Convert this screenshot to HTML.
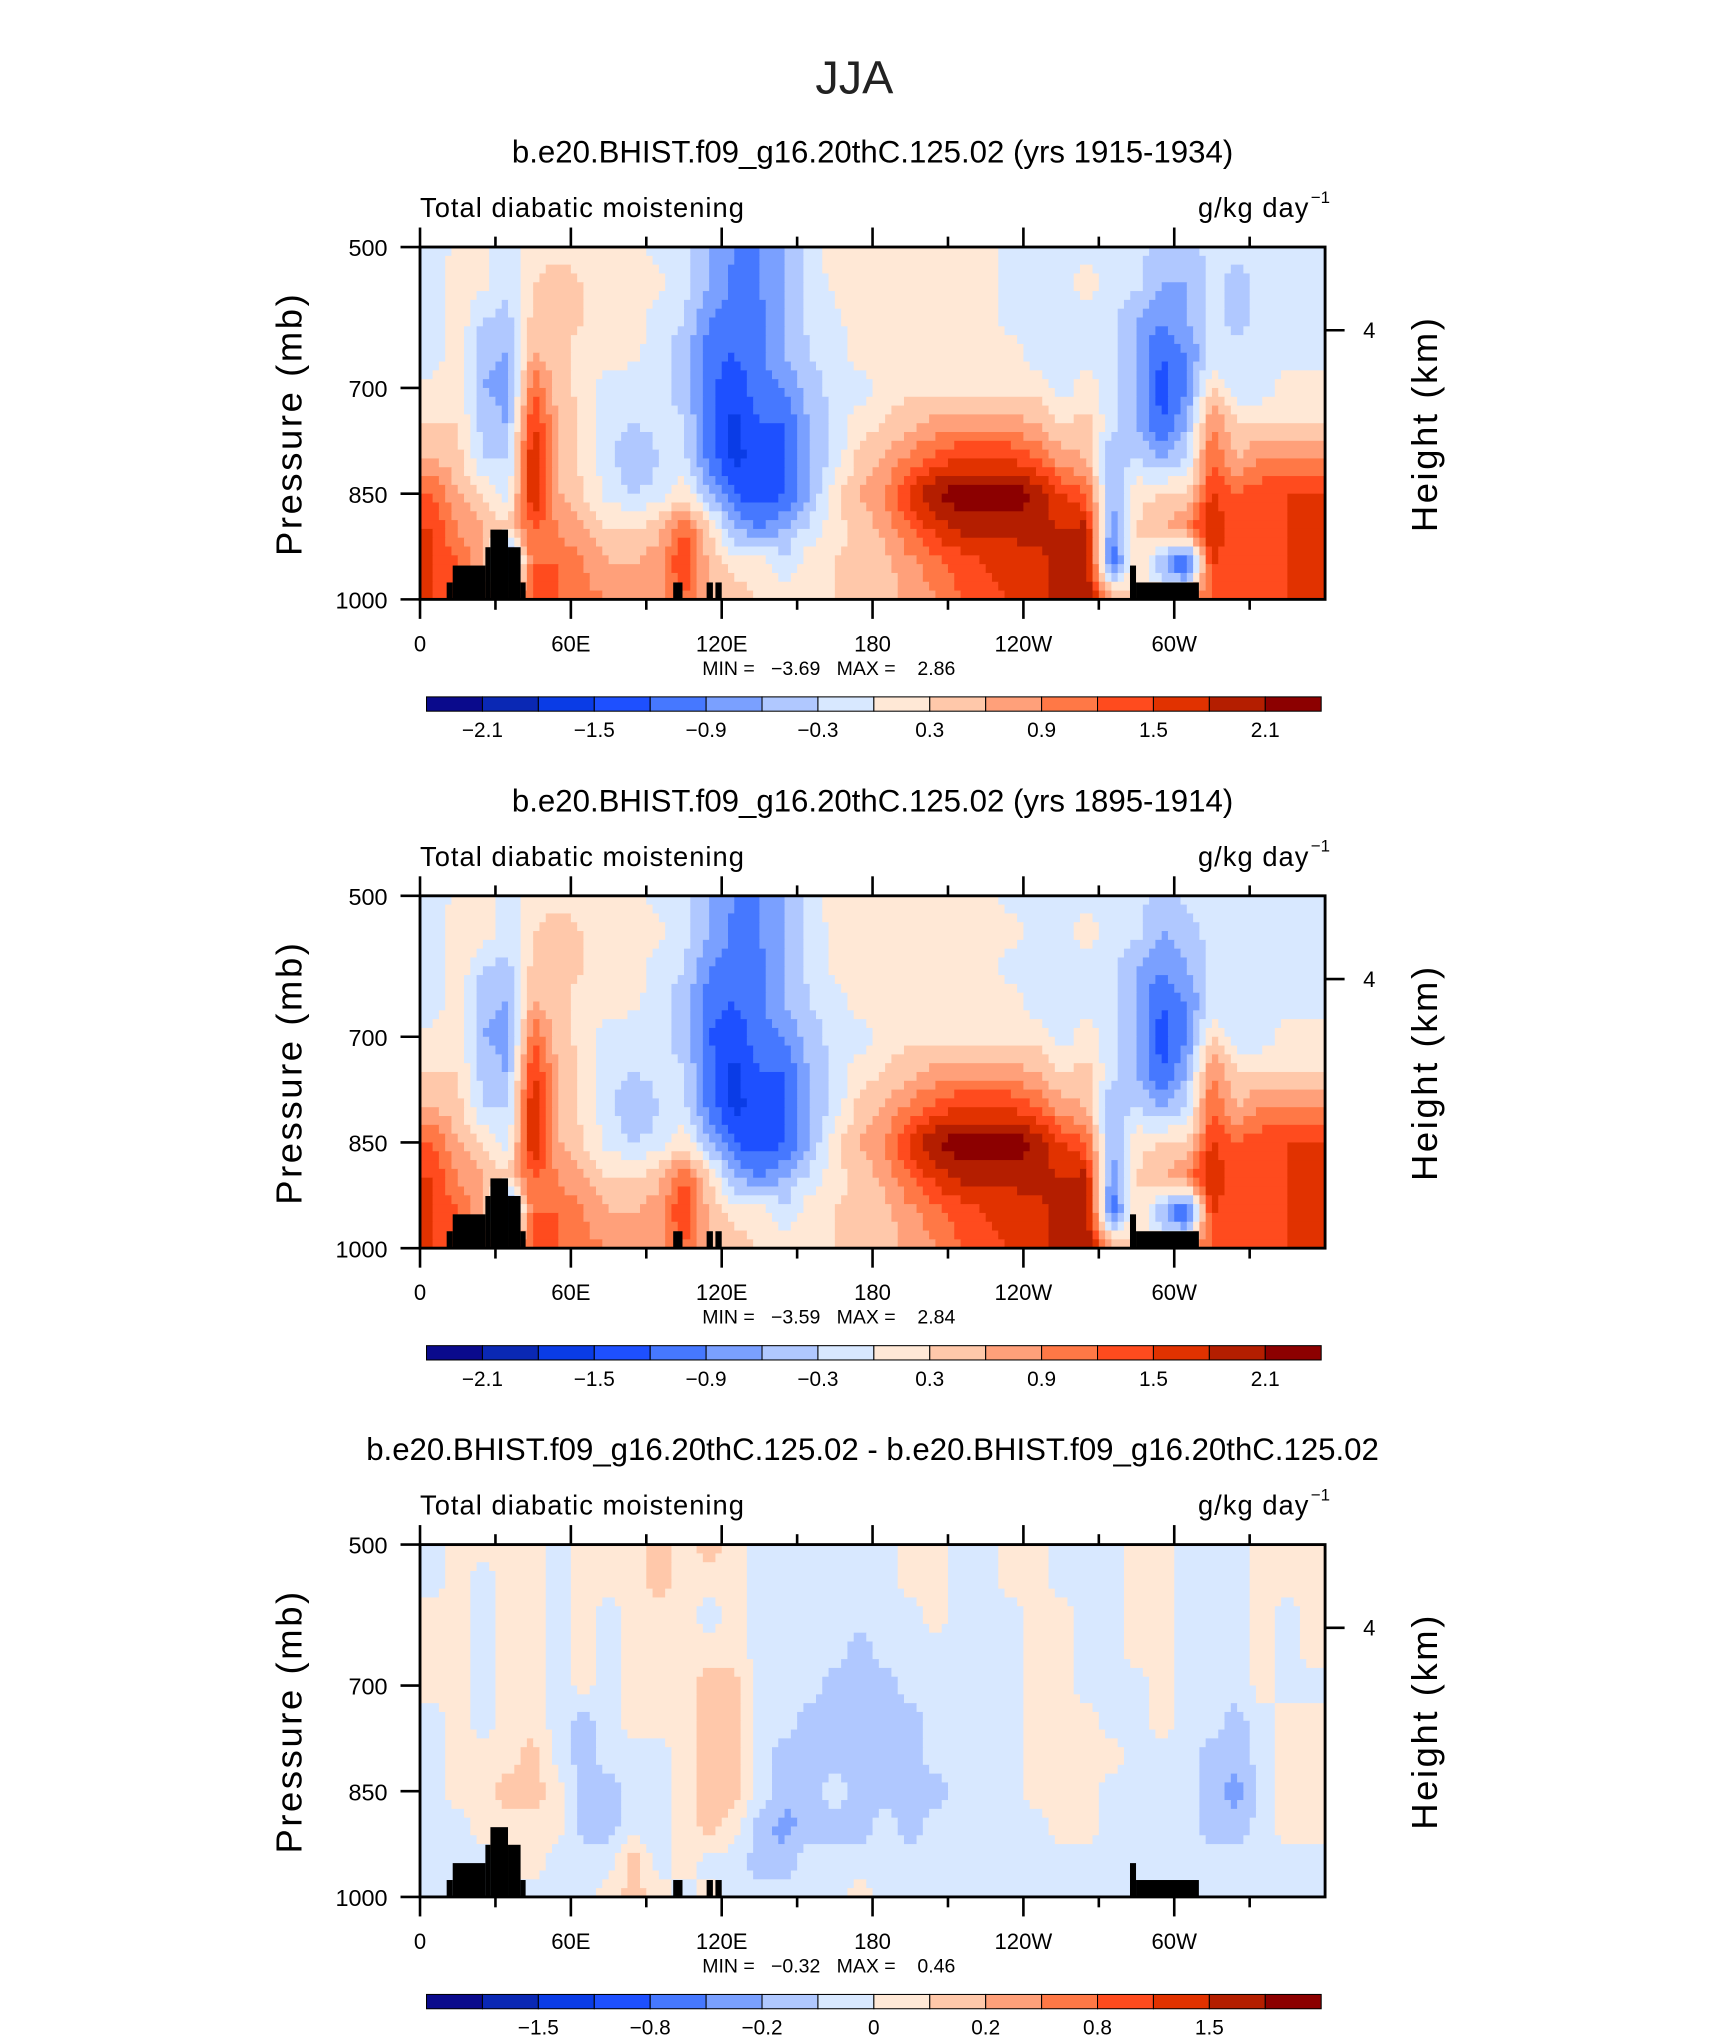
<!DOCTYPE html>
<html><head><meta charset="utf-8"><style>
html,body{margin:0;padding:0;background:#fff}
svg{display:block}
text{font-family:"Liberation Sans",sans-serif}
</style></head><body>
<svg id="fig" xmlns="http://www.w3.org/2000/svg" width="1710" height="2038" viewBox="0 0 1315 1567.5" preserveAspectRatio="none">
<text x="657" y="72" font-size="36" text-anchor="middle" fill="#222">JJA</text>
</svg>
<script>
// ---- data ----
const levels12 = [-2.1,-1.8,-1.5,-1.2,-0.9,-0.6,-0.3,0,0.3,0.6,0.9,1.2,1.5,1.8,2.1];
const levels3 = [-2,-1.5,-1,-0.8,-0.5,-0.2,-0.1,0,0.1,0.2,0.5,0.8,1,1.5,2];
const cbLabels12 = ["-2.1","","-1.5","","-0.9","","-0.3","","0.3","","0.9","","1.5","","2.1"];
const cbLabels3 = ["","-1.5","","-0.8","","-0.2","","0","","0.2","","0.8","","1.5",""];
const colors = ["#0a0a8c","#0a28b4","#0a3ce6","#1e50ff","#4678ff","#7aa0ff","#b0c8ff","#d8e8ff","#ffe8d6","#ffc8aa","#ffa07a","#ff7846","#ff4b1e","#e13200","#b41e00","#8c0000"];
const lonCenters = [5,15,25,35,45,55,65,75,85,95,105,115,125,135,145,155,165,175,185,195,205,215,225,235,245,255,265,275,285,295,305,315,325,335,345,355];
const presCenters = [500,550,600,650,700,750,800,850,900,950,1000];
const lonTicks = [0,60,120,180,240,300];
const lonTickLabels = ["0","60E","120E","180","120W","60W"];
const presTicks = [500,700,850,1000];
const landLon0 = [10.6,13,26,28,35,40,100.7,114,117.5,282.4,284.8];
const landLon1 = [13,26,28,35,40,42,104.4,116.5,120,284.8,309.8];
const landTop = [976,952,926,901,926,976,976,976,976,952,976];

const field1 = [
[-0.2,0.1,0.1,-0.2,0.2,0.2,0.2,0.2,0.2,-0.2,-0.2,-0.6,-0.9,-0.9,-0.6,-0.2,0.2,0.2,0.2,0.2,0.2,0.2,0.2,-0.2,-0.2,-0.2,-0.2,-0.2,-0.2,-0.4,-0.4,-0.2,-0.2,-0.2,-0.2,-0.2],
[-0.2,0.2,0.1,-0.2,0.3,0.4,0.3,0.2,0.2,0.1,-0.2,-0.6,-1.0,-0.9,-0.6,-0.2,0.1,0.2,0.2,0.2,0.2,0.2,0.2,-0.2,-0.2,-0.2,0.2,-0.2,-0.2,-0.6,-0.6,-0.2,-0.4,-0.2,-0.2,-0.2],
[-0.2,0.2,-0.3,-0.4,0.4,0.4,0.3,0.2,0.2,-0.2,-0.3,-0.9,-1.0,-1.0,-0.6,-0.2,-0.1,0.2,0.2,0.2,0.2,0.2,0.2,-0.2,-0.2,-0.2,-0.2,-0.2,-0.6,-0.9,-0.6,-0.2,-0.4,-0.2,-0.2,-0.2],
[-0.2,0.2,-0.5,-0.6,0.6,0.4,0.2,0.2,0.1,-0.2,-0.4,-1.1,-1.2,-1.0,-0.6,-0.3,-0.2,0.2,0.2,0.2,0.2,0.2,0.2,0.2,-0.2,-0.2,-0.2,-0.2,-0.6,-1.2,-0.9,-0.2,-0.2,-0.2,-0.2,-0.2],
[0.1,0.2,-0.6,-0.8,1.2,0.4,0.2,-0.2,-0.2,-0.2,-0.4,-1.1,-1.4,-1.0,-0.9,-0.4,-0.2,-0.2,0.2,0.2,0.2,0.2,0.2,0.2,0.2,-0.2,0.2,-0.2,-0.6,-1.4,-0.9,0.3,-0.2,-0.2,0.2,0.2],
[0.3,0.3,-0.4,-0.6,1.6,0.6,0.2,-0.2,-0.3,-0.2,-0.3,-1.0,-1.6,-1.2,-1.2,-0.6,-0.2,0.2,0.3,0.5,0.7,0.8,0.8,0.7,0.6,0.3,0.4,-0.2,-0.6,-1.2,-0.6,0.9,0.3,0.3,0.3,0.3],
[0.6,0.4,-0.3,-0.3,1.8,0.6,0.2,-0.2,-0.6,-0.3,-0.2,-1.0,-1.6,-1.4,-1.2,-0.6,-0.2,0.4,0.6,1.0,1.3,1.5,1.5,1.5,1.2,0.7,0.6,-0.6,-0.3,-0.6,-0.3,1.2,0.6,0.9,0.9,0.9],
[1.2,0.6,0.3,-0.2,1.9,0.6,0.3,-0.1,-0.3,-0.2,0.2,-0.6,-1.2,-1.4,-1.2,-0.6,0.2,0.6,0.9,1.6,2.1,2.3,2.3,2.3,2.1,1.5,1.2,-0.6,0.2,0.3,0.3,1.5,1.2,1.4,1.5,1.5],
[1.5,0.9,0.6,0.4,1.2,0.9,0.6,0.3,0.3,0.5,1.2,0.4,-0.6,-0.9,-0.6,-0.2,0.2,0.4,0.7,1.2,1.6,1.9,1.9,1.9,1.9,1.8,1.9,-0.9,0.3,0.6,0.9,1.9,1.2,1.4,1.5,1.5],
[1.5,1.2,0.6,-1.5,1.2,1.2,0.9,0.6,0.6,0.8,1.5,0.5,0.2,0.2,-0.2,0.2,0.3,0.4,0.5,0.8,1.1,1.3,1.5,1.6,1.7,1.9,2.1,-1.2,0.3,-0.6,-1.5,1.5,1.2,1.4,1.5,1.5],
[1.5,1.2,0.9,0.9,1.2,1.2,1.0,0.9,0.6,0.8,1.2,0.6,0.4,0.3,0.2,0.2,0.3,0.4,0.4,0.7,0.9,1.2,1.4,1.5,1.7,1.9,2.1,0.9,0.3,0.3,0.6,1.2,1.2,1.4,1.5,1.5]
];
const field2 = [
[-0.2,0.1,0.2,-0.2,0.2,0.2,0.2,0.2,0.2,-0.2,-0.2,-0.6,-0.9,-0.9,-0.6,-0.2,0.2,0.2,0.2,0.2,0.2,0.2,0.2,-0.2,-0.2,-0.2,-0.2,-0.2,-0.2,-0.4,-0.2,-0.2,-0.2,-0.2,-0.2,-0.2],
[-0.2,0.2,0.2,-0.2,0.3,0.4,0.3,0.2,0.2,0.1,-0.2,-0.6,-1.0,-0.9,-0.6,-0.2,0.1,0.2,0.2,0.2,0.2,0.2,0.2,0.2,-0.2,-0.2,0.2,-0.2,-0.2,-0.6,-0.4,-0.2,-0.2,-0.2,-0.2,-0.2],
[-0.2,0.2,-0.3,-0.4,0.4,0.4,0.3,0.2,0.2,-0.2,-0.3,-0.9,-1.0,-1.0,-0.6,-0.2,0.1,0.2,0.2,0.2,0.2,0.2,0.2,-0.2,-0.2,-0.2,-0.2,-0.2,-0.6,-0.9,-0.6,-0.2,-0.3,-0.2,-0.2,-0.2],
[-0.2,0.2,-0.5,-0.6,0.6,0.4,0.2,0.2,0.1,-0.2,-0.4,-1.1,-1.2,-1.0,-0.6,-0.3,-0.2,0.2,0.2,0.2,0.2,0.2,0.2,0.2,-0.2,-0.2,-0.2,-0.2,-0.6,-1.2,-0.9,-0.2,-0.2,-0.2,-0.2,-0.2],
[0.1,0.2,-0.6,-0.8,1.2,0.4,0.2,-0.2,-0.2,-0.2,-0.4,-1.2,-1.4,-1.0,-0.9,-0.4,-0.2,-0.2,0.2,0.2,0.2,0.2,0.2,0.2,0.2,-0.2,0.2,-0.2,-0.6,-1.4,-0.9,0.3,-0.2,-0.2,0.2,0.2],
[0.3,0.3,-0.4,-0.6,1.6,0.6,0.2,-0.2,-0.3,-0.2,-0.3,-1.0,-1.6,-1.2,-1.2,-0.6,-0.2,0.2,0.3,0.5,0.7,0.8,0.8,0.7,0.6,0.3,0.4,-0.2,-0.6,-1.2,-0.6,0.9,0.3,0.3,0.3,0.3],
[0.6,0.4,-0.3,-0.3,1.8,0.6,0.2,-0.2,-0.6,-0.3,-0.2,-1.0,-1.6,-1.4,-1.2,-0.6,-0.2,0.4,0.6,1.0,1.3,1.5,1.5,1.5,1.2,0.7,0.6,-0.6,-0.3,-0.6,-0.3,1.2,0.6,0.9,0.9,0.9],
[1.2,0.6,0.3,-0.2,1.9,0.6,0.3,-0.1,-0.3,-0.2,0.2,-0.6,-1.2,-1.4,-1.2,-0.6,0.2,0.6,0.9,1.6,2.1,2.3,2.3,2.3,2.1,1.5,1.2,-0.6,0.2,0.3,0.3,1.5,1.2,1.4,1.5,1.5],
[1.5,0.9,0.6,0.4,1.2,0.9,0.6,0.3,0.3,0.5,1.2,0.4,-0.6,-0.9,-0.6,-0.2,0.2,0.4,0.7,1.2,1.6,1.9,1.9,1.9,1.9,1.8,1.9,-0.9,0.3,0.6,0.9,1.9,1.2,1.4,1.5,1.5],
[1.5,1.2,0.6,-1.5,1.2,1.2,0.9,0.6,0.6,0.8,1.5,0.5,0.2,0.2,-0.2,0.2,0.3,0.4,0.5,0.8,1.1,1.3,1.5,1.6,1.7,1.9,2.1,-1.2,0.3,-0.6,-1.5,1.5,1.2,1.4,1.5,1.5],
[1.5,1.2,0.9,0.9,1.2,1.2,1.0,0.9,0.6,0.8,1.2,0.6,0.4,0.3,0.2,0.2,0.3,0.4,0.4,0.7,0.9,1.2,1.4,1.5,1.7,1.9,2.1,0.9,0.3,0.3,0.6,1.2,1.2,1.4,1.5,1.5]
];
const field3 = [
[-0.05,0.05,0.05,0.05,0.05,-0.05,0.05,0.05,0.05,0.15,0.05,0.15,0.05,-0.05,-0.05,-0.05,-0.05,-0.05,-0.05,0.05,0.05,-0.05,-0.05,0.05,0.05,-0.05,-0.05,-0.05,0.05,0.05,-0.05,-0.05,-0.05,0.05,0.05,0.05],
[-0.05,0.05,-0.05,0.05,0.05,-0.05,0.05,0.05,0.05,0.15,0.05,0.05,0.05,-0.05,-0.05,-0.05,-0.05,-0.05,-0.05,0.05,0.05,-0.05,-0.05,0.05,0.05,-0.05,-0.05,-0.05,0.05,0.05,-0.05,-0.05,-0.05,0.05,0.05,0.05],
[0.05,0.05,-0.05,0.05,0.05,-0.05,0.05,-0.05,0.05,0.05,0.05,-0.05,0.05,-0.05,-0.05,-0.05,-0.05,-0.05,-0.05,-0.05,0.05,-0.05,-0.05,-0.05,0.05,0.05,-0.05,-0.05,0.05,0.05,-0.05,-0.05,-0.05,0.05,-0.05,0.05],
[0.05,0.05,-0.05,0.05,0.05,-0.05,0.05,-0.05,0.05,0.05,0.05,0.05,0.05,-0.05,-0.05,-0.05,-0.05,-0.15,-0.05,-0.05,-0.05,-0.05,-0.05,-0.05,0.05,0.05,-0.05,-0.05,0.05,0.05,-0.05,-0.05,-0.05,0.05,-0.05,0.05],
[0.05,0.05,-0.05,0.05,0.05,-0.05,0.05,-0.05,0.05,0.05,0.05,0.15,0.15,-0.05,-0.05,-0.05,-0.15,-0.15,-0.15,-0.05,-0.05,-0.05,-0.05,-0.05,0.05,0.05,-0.05,-0.05,-0.05,0.05,-0.05,-0.05,-0.05,0.05,-0.05,-0.05],
[-0.05,0.05,-0.05,0.05,0.05,-0.05,-0.15,-0.05,0.05,0.05,0.05,0.15,0.15,-0.05,-0.05,-0.15,-0.15,-0.15,-0.15,-0.15,-0.05,-0.05,-0.05,-0.05,0.05,0.05,0.05,-0.05,-0.05,0.05,-0.05,-0.05,-0.15,-0.05,0.05,0.05],
[-0.05,0.05,0.05,0.05,0.15,-0.05,-0.15,-0.05,-0.05,-0.05,0.05,0.15,0.15,-0.05,-0.15,-0.15,-0.15,-0.15,-0.15,-0.15,-0.05,-0.05,-0.05,-0.05,0.05,0.05,0.05,0.05,-0.05,-0.05,-0.05,-0.15,-0.15,-0.05,0.05,0.05],
[-0.05,0.05,0.05,0.15,0.15,0.05,-0.15,-0.15,-0.05,-0.05,0.05,0.15,0.15,-0.05,-0.15,-0.15,-0.05,-0.15,-0.15,-0.15,-0.15,-0.05,-0.05,-0.05,0.05,0.05,0.05,-0.05,-0.05,-0.05,-0.05,-0.15,-0.25,-0.05,0.05,0.05],
[-0.05,-0.05,0.05,0.05,0.05,0.05,-0.15,-0.15,-0.05,-0.05,0.05,0.15,0.05,-0.15,-0.25,-0.15,-0.15,-0.15,-0.05,-0.15,-0.05,-0.05,-0.05,-0.05,-0.05,0.05,0.05,-0.05,-0.05,-0.05,-0.05,-0.15,-0.15,-0.05,0.05,0.05],
[-0.05,-0.05,-0.05,0.05,0.05,-0.05,-0.05,-0.05,0.15,-0.05,0.05,-0.05,-0.05,-0.15,-0.15,-0.05,-0.05,-0.05,-0.05,-0.05,-0.05,-0.05,-0.05,-0.05,-0.05,-0.05,-0.05,-0.05,-0.05,-0.05,-0.05,-0.05,-0.05,-0.05,-0.05,-0.05],
[-0.05,-0.05,-0.05,-0.05,-0.05,-0.05,-0.05,0.05,0.15,0.05,-0.05,0.05,-0.05,-0.05,-0.05,-0.05,-0.05,0.05,-0.05,-0.05,-0.05,-0.05,-0.05,-0.05,-0.05,-0.05,-0.05,-0.05,-0.05,-0.05,-0.05,-0.05,-0.05,-0.05,-0.05,-0.05]
];
const panelTitles = ["b.e20.BHIST.f09_g16.20thC.125.02 (yrs 1915-1934)","b.e20.BHIST.f09_g16.20thC.125.02 (yrs 1895-1914)","b.e20.BHIST.f09_g16.20thC.125.02 - b.e20.BHIST.f09_g16.20thC.125.02"];
const minTexts = ["-3.69","-3.59","-0.32"];
const maxTexts = ["2.86","2.84","0.46"];

// ---- drawing ----
const NS = "http://www.w3.org/2000/svg";
const svg = document.getElementById("fig");
function mk(tag, attrs, parent) {
  const e = document.createElementNS(NS, tag);
  for (const k in attrs) e.setAttribute(k, attrs[k]);
  (parent || svg).appendChild(e);
  return e;
}
const X0 = 323, X1 = 1019;
const xs = lon => X0 + (lon / 360) * (X1 - X0);
function colorIdx(v, lv) { let n = 0; for (const l of lv) if (v >= l) n++; return n; }
function sample(F, lon, pr) {
  let fx = (lon - lonCenters[0]) / (lonCenters[1] - lonCenters[0]);
  let fy = (pr - presCenters[0]) / (presCenters[1] - presCenters[0]);
  fx = Math.max(0, Math.min(lonCenters.length - 1, fx));
  fy = Math.max(0, Math.min(presCenters.length - 1, fy));
  const i0 = Math.floor(fy), j0 = Math.floor(fx);
  const i1 = Math.min(i0 + 1, presCenters.length - 1), j1 = Math.min(j0 + 1, lonCenters.length - 1);
  const ty = fy - i0, tx = fx - j0;
  const a = F[i0][j0] * (1 - tx) + F[i0][j1] * tx;
  const b = F[i1][j0] * (1 - tx) + F[i1][j1] * tx;
  return a * (1 - ty) + b * ty;
}

const fields = [field1, field2, field3];
const lvls = [levels12, levels12, levels3];
const cbl = [cbLabels12, cbLabels12, cbLabels3];
const DL = 2.5, DP = 12.5;

for (let p = 0; p < 3; p++) {
  const off = p * 499;
  const Y0 = 190 + off, Y1 = 461 + off;
  const yp = pr => Y0 + (pr - 500) / 500 * (Y1 - Y0);
  const g = mk("g", {});
  
  

  const t = mk("text", {x: 671, y: 125 + off, "font-size": 24, "text-anchor": "middle", fill: "#000"}, g);
  t.textContent = panelTitles[p];
  
  

  const cells = mk("g", {}, g);
  
  
  const F = fields[p];
  for (let pr = 500; pr < 1000; pr += DP) {
    let lon = 0;
    while (lon < 360) {
      const ci = colorIdx(sample(F, lon + DL / 2, pr + DP / 2), lvls[p]);
      let l2 = lon + DL;
      while (l2 < 360 && colorIdx(sample(F, l2 + DL / 2, pr + DP / 2), lvls[p]) === ci) l2 += DL;
      const r = mk("rect", {x: xs(lon), y: yp(pr), width: xs(l2) - xs(lon) + 0.5, height: yp(pr + DP) - yp(pr) + 0.5, fill: colors[ci]}, cells);
      
      
      lon = l2;
    }
  }
  for (let k = 0; k < landLon0.length; k++) {
    const r = mk("rect", {x: xs(landLon0[k]), y: yp(landTop[k]), width: xs(landLon1[k]) - xs(landLon0[k]), height: Y1 - yp(landTop[k]), fill: "#000"}, g);
    
    
  }
  const fr = mk("rect", {x: X0, y: Y0, width: X1 - X0, height: Y1 - Y0, fill: "none", stroke: "#000", "stroke-width": 2.2}, g);
  
  

  for (let lon = 0; lon < 360; lon += 30) {
    const major = lon % 60 === 0;
    const len = major ? 15 : 8;
    mk("line", {x1: xs(lon), x2: xs(lon), y1: Y0, y2: Y0 - len, stroke: "#000", "stroke-width": 2}, g);
    mk("line", {x1: xs(lon), x2: xs(lon), y1: Y1, y2: Y1 + len, stroke: "#000", "stroke-width": 2}, g);
  }
  for (let k = 0; k < lonTicks.length; k++) {
    const tl = mk("text", {x: xs(lonTicks[k]), y: Y1 + 40, "font-size": 17, "text-anchor": "middle", fill: "#000"}, g);
    tl.textContent = lonTickLabels[k];
    
    
  }
  for (const pr of presTicks) {
    mk("line", {x1: X0, x2: X0 - 15, y1: yp(pr), y2: yp(pr), stroke: "#000", "stroke-width": 2}, g);
    const tl = mk("text", {x: 298, y: yp(pr) + 7, "font-size": 18, "text-anchor": "end", fill: "#000"}, g);
    tl.textContent = String(pr);
    
    
  }
  mk("line", {x1: X1, x2: X1 + 15, y1: Y0 + 64, y2: Y0 + 64, stroke: "#000", "stroke-width": 2}, g);
  const h4 = mk("text", {x: 1053, y: Y0 + 70, "font-size": 17, "text-anchor": "middle", fill: "#000"}, g);
  h4.textContent = "4";
  
  

  const ya = mk("text", {x: 0, y: 0, "font-size": 28, "text-anchor": "middle", "letter-spacing": 2, fill: "#000", transform: "translate(232," + (Y0 + 136) + ") rotate(-90)"}, g);
  ya.textContent = "Pressure (mb)";
  
  
  const yb = mk("text", {x: 0, y: 0, "font-size": 28, "text-anchor": "middle", "letter-spacing": 2, fill: "#000", transform: "translate(1105," + (Y0 + 136) + ") rotate(-90)"}, g);
  yb.textContent = "Height (km)";
  
  

  const lt = mk("text", {x: 323, y: Y0 - 23, "font-size": 21, "letter-spacing": 0.8, fill: "#000"}, g);
  lt.textContent = "Total diabatic moistening";
  
  
  const ut = mk("text", {x: 1007, y: Y0 - 23, "font-size": 21, "text-anchor": "end", "letter-spacing": 0.8, fill: "#000"}, g);
  ut.textContent = "g/kg day";
  
  
  const us = mk("text", {x: 1008, y: Y0 - 34, "font-size": 13, fill: "#000"}, g);
  us.textContent = "\u22121";
  
  

  const mm = mk("text", {x: 540, y: Y1 + 58, "font-size": 15, fill: "#000", style: "white-space:pre"}, g);
  mm.textContent = "MIN =   " + minTexts[p].replace("-", "\u2212") + "   MAX =    " + maxTexts[p];
  
  

  const cb = mk("g", {}, g);
  
  
  const CB0 = 328, CB1 = 1016, cbY = Y1 + 75, bw = (CB1 - CB0) / 16;
  for (let k = 0; k < 16; k++) {
    const r = mk("rect", {x: CB0 + k * bw, y: cbY, width: bw, height: 11, fill: colors[k], stroke: "#000", "stroke-width": 0.8}, cb);
    
    
  }
  for (let k = 0; k < 15; k++) {
    if (!cbl[p][k]) continue;
    const tl = mk("text", {x: CB0 + (k + 1) * bw, y: cbY + 31, "font-size": 16, "text-anchor": "middle", fill: "#000"}, cb);
    tl.textContent = cbl[p][k].replace("-", "\u2212");
    
    
  }
}
</script>
</body></html>
